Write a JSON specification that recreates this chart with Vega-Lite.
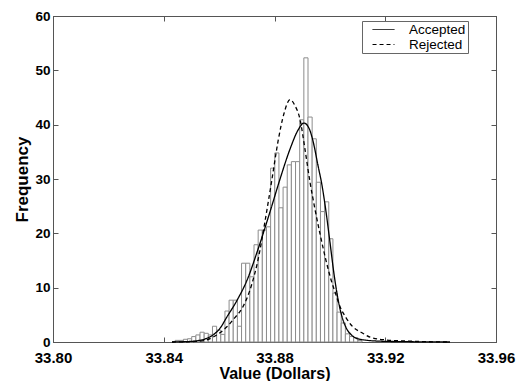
{
  "$schema": "https://vega.github.io/schema/vega-lite/v6.json",
  "width": 443,
  "height": 326,
  "autosize": {"type": "none"},
  "padding": {"left": 53, "top": 16, "right": 21, "bottom": 39},
  "config": {
    "view": {"stroke": "#555", "strokeWidth": 1},
    "font": "Liberation Sans",
    "axis": {"grid": false, "domainColor": "#555", "tickColor": "#555", "labelColor": "black", "titleColor": "black", "labelFont": "Liberation Sans", "titleFont": "Liberation Sans", "labelFontWeight": "bold", "titleFontWeight": "bold", "labelFlush": false, "labelOverlap": false}
  },
  "layer": [
    {
      "data": {"values": [
        {"start": 33.8441, "end": 33.8456, "count": 0.3},
        {"start": 33.8456, "end": 33.8471, "count": 0.3},
        {"start": 33.8471, "end": 33.8486, "count": 0.5},
        {"start": 33.8486, "end": 33.8501, "count": 0.6},
        {"start": 33.8501, "end": 33.8516, "count": 1.0},
        {"start": 33.8516, "end": 33.8531, "count": 1.3},
        {"start": 33.8531, "end": 33.8546, "count": 1.8},
        {"start": 33.8546, "end": 33.8561, "count": 1.6},
        {"start": 33.8561, "end": 33.8576, "count": 1.3},
        {"start": 33.8576, "end": 33.8591, "count": 2.9},
        {"start": 33.8591, "end": 33.8606, "count": 2.2},
        {"start": 33.8606, "end": 33.8621, "count": 1.4},
        {"start": 33.8621, "end": 33.8636, "count": 5.7},
        {"start": 33.8636, "end": 33.8651, "count": 7.7},
        {"start": 33.8651, "end": 33.8666, "count": 7.7},
        {"start": 33.8666, "end": 33.8681, "count": 2.9},
        {"start": 33.8681, "end": 33.8696, "count": 14.5},
        {"start": 33.8696, "end": 33.8711, "count": 14.5},
        {"start": 33.8711, "end": 33.8726, "count": 12.0},
        {"start": 33.8726, "end": 33.8741, "count": 17.9},
        {"start": 33.8741, "end": 33.8756, "count": 20.6},
        {"start": 33.8756, "end": 33.8771, "count": 20.6},
        {"start": 33.8771, "end": 33.8786, "count": 21.2},
        {"start": 33.8786, "end": 33.8801, "count": 32.0},
        {"start": 33.8801, "end": 33.8816, "count": 34.8},
        {"start": 33.8816, "end": 33.8831, "count": 24.7},
        {"start": 33.8831, "end": 33.8846, "count": 28.5},
        {"start": 33.8846, "end": 33.8861, "count": 32.6},
        {"start": 33.8861, "end": 33.8876, "count": 33.2},
        {"start": 33.8876, "end": 33.8891, "count": 33.2},
        {"start": 33.8891, "end": 33.8906, "count": 40.9},
        {"start": 33.8906, "end": 33.8921, "count": 52.3},
        {"start": 33.8921, "end": 33.8936, "count": 41.4},
        {"start": 33.8936, "end": 33.8951, "count": 37.4},
        {"start": 33.8951, "end": 33.8966, "count": 29.4},
        {"start": 33.8966, "end": 33.8981, "count": 24.0},
        {"start": 33.8981, "end": 33.8996, "count": 25.8},
        {"start": 33.8996, "end": 33.9011, "count": 19.0},
        {"start": 33.9011, "end": 33.9026, "count": 9.0},
        {"start": 33.9026, "end": 33.9041, "count": 5.5},
        {"start": 33.9041, "end": 33.9056, "count": 3.5},
        {"start": 33.9056, "end": 33.9071, "count": 1.5},
        {"start": 33.9071, "end": 33.9086, "count": 1.0},
        {"start": 33.9086, "end": 33.9101, "count": 0.8},
        {"start": 33.9101, "end": 33.9116, "count": 0.3}
      ]},
      "mark": {"type": "rect", "fill": "white", "stroke": "#8c8c8c", "strokeWidth": 1},
      "encoding": {
        "x": {"field": "start", "type": "quantitative", "scale": {"domain": [33.8, 33.96], "nice": false, "zero": false},
          "axis": {"values": [33.8, 33.84, 33.88, 33.92, 33.96], "format": ".2f", "title": "Value (Dollars)", "titleFontSize": 16, "labelFontSize": 15, "tickSize": -5, "labelPadding": 13, "titleY": 23, "titleBaseline": "top"}},
        "x2": {"field": "end"},
        "y": {"field": "count", "type": "quantitative", "scale": {"domain": [0, 60], "nice": false},
          "axis": {"values": [0, 10, 20, 30, 40, 50, 60], "title": "Frequency", "titleFontSize": 17, "labelFontSize": 13.5, "tickSize": -5, "labelPadding": 8, "titlePadding": 3}},
        "y2": {"datum": 0}
      }
    },
    {
      "data": {"values": [
        {"series": "Accepted", "value": 33.8430, "freq": 0},
        {"series": "Accepted", "value": 33.8495, "freq": 0.1},
        {"series": "Accepted", "value": 33.8538, "freq": 0.4},
        {"series": "Accepted", "value": 33.8578, "freq": 1.3},
        {"series": "Accepted", "value": 33.8603, "freq": 2.5},
        {"series": "Accepted", "value": 33.8628, "freq": 4.6},
        {"series": "Accepted", "value": 33.8665, "freq": 7.7},
        {"series": "Accepted", "value": 33.8701, "freq": 11.4},
        {"series": "Accepted", "value": 33.8740, "freq": 17},
        {"series": "Accepted", "value": 33.8784, "freq": 24},
        {"series": "Accepted", "value": 33.8820, "freq": 30},
        {"series": "Accepted", "value": 33.8856, "freq": 35.5},
        {"series": "Accepted", "value": 33.8885, "freq": 39},
        {"series": "Accepted", "value": 33.8906, "freq": 40.3},
        {"series": "Accepted", "value": 33.8925, "freq": 39.3},
        {"series": "Accepted", "value": 33.8939, "freq": 37},
        {"series": "Accepted", "value": 33.8957, "freq": 32.5},
        {"series": "Accepted", "value": 33.8971, "freq": 29},
        {"series": "Accepted", "value": 33.8986, "freq": 24},
        {"series": "Accepted", "value": 33.9000, "freq": 18.5},
        {"series": "Accepted", "value": 33.9015, "freq": 12.5},
        {"series": "Accepted", "value": 33.9029, "freq": 8},
        {"series": "Accepted", "value": 33.9043, "freq": 4.8},
        {"series": "Accepted", "value": 33.9058, "freq": 2.7},
        {"series": "Accepted", "value": 33.9080, "freq": 1.2},
        {"series": "Accepted", "value": 33.9109, "freq": 0.5},
        {"series": "Accepted", "value": 33.9181, "freq": 0.15},
        {"series": "Accepted", "value": 33.9289, "freq": 0.05},
        {"series": "Accepted", "value": 33.9434, "freq": 0},
        {"series": "Rejected", "value": 33.8430, "freq": 0},
        {"series": "Rejected", "value": 33.8513, "freq": 0.1},
        {"series": "Rejected", "value": 33.8549, "freq": 0.3},
        {"series": "Rejected", "value": 33.8578, "freq": 0.9},
        {"series": "Rejected", "value": 33.8603, "freq": 1.7},
        {"series": "Rejected", "value": 33.8628, "freq": 2.8},
        {"series": "Rejected", "value": 33.8657, "freq": 4.5},
        {"series": "Rejected", "value": 33.8683, "freq": 6.2},
        {"series": "Rejected", "value": 33.8719, "freq": 10.8},
        {"series": "Rejected", "value": 33.8740, "freq": 15},
        {"series": "Rejected", "value": 33.8765, "freq": 22},
        {"series": "Rejected", "value": 33.8791, "freq": 30},
        {"series": "Rejected", "value": 33.8813, "freq": 37},
        {"series": "Rejected", "value": 33.8834, "freq": 42},
        {"series": "Rejected", "value": 33.8856, "freq": 44.6},
        {"series": "Rejected", "value": 33.8874, "freq": 43.5},
        {"series": "Rejected", "value": 33.8892, "freq": 41},
        {"series": "Rejected", "value": 33.8910, "freq": 35.5},
        {"series": "Rejected", "value": 33.8928, "freq": 29.5},
        {"series": "Rejected", "value": 33.8946, "freq": 24.5},
        {"series": "Rejected", "value": 33.8964, "freq": 20},
        {"series": "Rejected", "value": 33.8986, "freq": 15},
        {"series": "Rejected", "value": 33.9004, "freq": 11.5},
        {"series": "Rejected", "value": 33.9022, "freq": 8.7},
        {"series": "Rejected", "value": 33.9036, "freq": 6.6},
        {"series": "Rejected", "value": 33.9058, "freq": 4.5},
        {"series": "Rejected", "value": 33.9083, "freq": 2.8},
        {"series": "Rejected", "value": 33.9116, "freq": 1.7},
        {"series": "Rejected", "value": 33.9145, "freq": 0.9},
        {"series": "Rejected", "value": 33.9199, "freq": 0.4},
        {"series": "Rejected", "value": 33.9289, "freq": 0.15},
        {"series": "Rejected", "value": 33.9434, "freq": 0}
      ]},
      "mark": {"type": "line", "color": "black", "strokeWidth": 1.3, "interpolate": "monotone"},
      "encoding": {
        "x": {"field": "value", "type": "quantitative", "scale": {"domain": [33.8, 33.96], "nice": false, "zero": false},
          "axis": {"orient": "top", "values": [33.8, 33.84, 33.88, 33.92, 33.96], "labels": false, "title": null, "tickSize": -5}},
        "y": {"field": "freq", "type": "quantitative", "scale": {"domain": [0, 60], "nice": false},
          "axis": {"orient": "right", "values": [0, 10, 20, 30, 40, 50, 60], "labels": false, "title": null, "tickSize": -5}},
        "strokeDash": {"field": "series", "type": "nominal", "scale": {"domain": ["Accepted", "Rejected"], "range": [[1, 0], [4, 3]]},
          "legend": {"orient": "none", "legendX": 309, "legendY": 5, "title": null, "symbolType": "stroke", "symbolStrokeColor": "black", "symbolSize": 480, "symbolStrokeWidth": 1, "labelFontSize": 13.5, "labelFont": "Liberation Sans", "labelColor": "black", "fillColor": "white", "strokeColor": "#666", "padding": 2, "rowPadding": 1, "labelOffset": 14, "symbolOffset": 8, "clipHeight": 13}}
      }
    }
  ],
  "resolve": {"axis": {"x": "independent", "y": "independent"}}
}
